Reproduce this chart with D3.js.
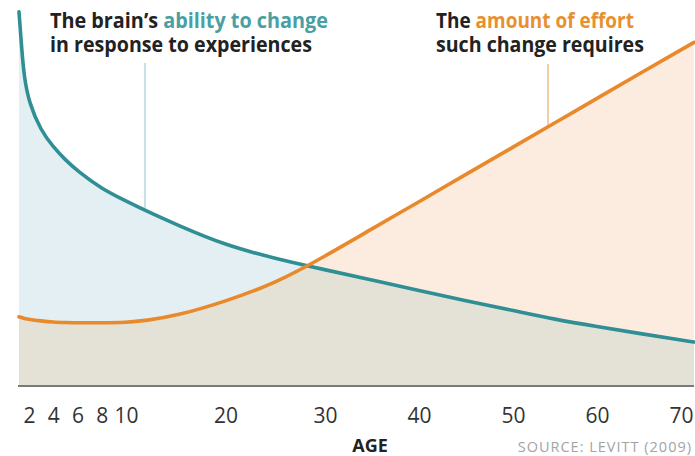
<!DOCTYPE html>
<html>
<head>
<meta charset="utf-8">
<script src="https://cdn.jsdelivr.net/npm/d3@7"></script>
<style>
  html, body { margin: 0; padding: 0; background: #fff; }
  svg { display: block; }
  text { font-family: "Open Sans", "Noto Sans", sans-serif; }
</style>
</head>
<body>
<svg id="chart" width="695" height="456"></svg>
<script>
// ---- data ----
const ages    = [0, 0.5, 1, 2, 3, 4, 5, 6, 8, 10, 12, 15, 20, 25, 30, 35, 40, 45, 50, 55, 60, 65, 70, 72];
const ability = [99.5, 90.4, 82.4, 75.3, 67.8, 63.6, 60.1, 57.2, 52.4, 49.2, 46.6, 43.0, 37.4, 33.9, 30.9, 28.2, 25.4, 22.6, 20.1, 17.7, 15.8, 14.0, 12.2, 11.7];
const effort  = [18.4, 18.2, 18.0, 17.7, 17.3, 17.0, 16.9, 16.8, 16.8, 16.9, 17.4, 18.6, 22.5, 27.3, 34.5, 41.8, 49.0, 56.3, 63.5, 70.0, 76.5, 83.0, 89.4, 91.4];
const tickAges = [2, 4, 6, 8, 10, 20, 30, 40, 50, 60, 70];
const abilityTitle = ["The brain\u2019s ", "ability to change", "in response to experiences"];
const effortTitle  = ["The ", "amount of effort", "such change requires"];
const axisTitle = "AGE";
const sourceText = "SOURCE: LEVITT (2009)";

// ---- layout ----
const svg = d3.select("#chart");
const baseY = 386;
const x = d3.scaleLinear()
  .domain([0, 2, 10, 30, 50, 70, 72])
  .range([19, 29, 126, 325, 513, 681, 694]);
const y = d3.scaleLinear().domain([0, 100]).range([baseY, 10]);

const teal = "#2f8f94", orange = "#e8892b";
const tealText = "#4a9fa4", orangeText = "#e8902f";

const rows = ages.map((a, i) => ({ a, ab: ability[i], ef: effort[i] }));
const curve = d3.curveBasis;

const areaAb = d3.area().x(d => x(d.a)).y0(baseY).y1(d => y(d.ab)).curve(curve);
const areaEf = d3.area().x(d => x(d.a)).y0(baseY).y1(d => y(d.ef)).curve(curve);
const lineAb = d3.line().x(d => x(d.a)).y(d => y(d.ab)).curve(curve);
const lineEf = d3.line().x(d => x(d.a)).y(d => y(d.ef)).curve(curve);

svg.append("defs").append("clipPath").attr("id", "clipAb")
  .append("path").attr("d", areaAb(rows));

svg.append("path").attr("d", areaAb(rows)).attr("fill", "#e4eff3");
svg.append("path").attr("d", areaEf(rows)).attr("fill", "#fcece0");
svg.append("path").attr("d", areaEf(rows)).attr("fill", "#e4e2d6").attr("clip-path", "url(#clipAb)");

// annotation leader lines
svg.append("line").attr("x1", x(12) - 1).attr("x2", x(12) - 1).attr("y1", 63).attr("y2", y(46.6))
  .attr("stroke", "#c8dfe5").attr("stroke-width", 2);
svg.append("line").attr("x1", 548).attr("x2", 548).attr("y1", 64).attr("y2", 127)
  .attr("stroke", "#f6cba8").attr("stroke-width", 2);

// baseline
svg.append("line").attr("x1", 18).attr("x2", 694).attr("y1", baseY).attr("y2", baseY)
  .attr("stroke", "#7a7a78").attr("stroke-width", 2);

svg.append("path").attr("d", lineAb(rows)).attr("fill", "none")
  .attr("stroke", teal).attr("stroke-width", 3.6).attr("stroke-linecap", "round");
svg.append("path").attr("d", lineEf(rows)).attr("fill", "none")
  .attr("stroke", orange).attr("stroke-width", 3.6).attr("stroke-linecap", "round");

// axis
const axis = svg.append("g").attr("transform", `translate(0,${baseY})`)
  .call(d3.axisBottom(x).tickValues(tickAges).tickSize(0).tickPadding(22).tickFormat(d3.format("d")));
axis.select(".domain").remove();
axis.selectAll("text").attr("font-size", 21).attr("fill", "#333").attr("font-family", "'Open Sans', sans-serif");

svg.append("text").attr("x", 370).attr("y", 452).attr("text-anchor", "middle")
  .attr("font-size", 18).attr("font-weight", "bold").attr("fill", "#222").text(axisTitle);
svg.append("text").attr("x", 692).attr("y", 452).attr("text-anchor", "end")
  .attr("font-size", 14.5).attr("letter-spacing", 1).attr("fill", "#a3a3a3").text(sourceText);

// titles (squeezed horizontally to the reference's narrower face)
function fitLine(xp, yp, parts, width) {
  const g = svg.append("g");
  let cx = 0;
  parts.forEach(p => {
    const t = g.append("text").attr("x", cx).attr("y", 0).attr("font-size", 21)
      .attr("font-weight", "bold").attr("fill", p.fill || "#222")
      .attr("xml:space", "preserve").style("white-space", "pre").text(p.text);
    cx += t.node().getComputedTextLength();
  });
  g.attr("transform", `translate(${xp},${yp}) scale(${width / cx},1)`);
}
fitLine(50, 28, [{ text: abilityTitle[0] }, { text: abilityTitle[1], fill: tealText }], 278);
fitLine(50, 52, [{ text: abilityTitle[2] }], 262);
fitLine(436, 28, [{ text: effortTitle[0] }, { text: effortTitle[1], fill: orangeText }], 198);
fitLine(436, 52, [{ text: effortTitle[2] }], 208);
</script>
</body>
</html>
